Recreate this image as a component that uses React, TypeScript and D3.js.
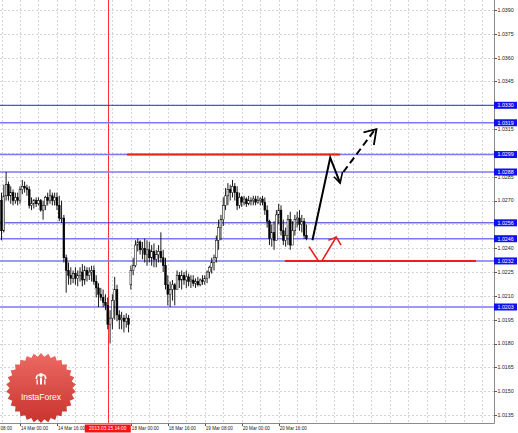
import React from "react";
import * as d3 from "d3";

// ---- data (hourly bars) ----
const opens = [1.0270,1.0251,1.0273,1.0280,1.0273,1.0275,1.0270,1.0272,1.0270,1.0277,1.0279,1.0278,1.0277,1.0267,1.0268,1.0270,1.0268,1.0270,1.0264,1.0267,1.0272,1.0270,1.0273,1.0270,1.0272,1.0267,1.0259,1.0259,1.0234,1.0226,1.0223,1.0221,1.0224,1.0221,1.0223,1.0225,1.0220,1.0226,1.0223,1.0225,1.0226,1.0219,1.0215,1.0211,1.0209,1.0206,1.0204,1.0192,1.0196,1.0207,1.0214,1.0198,1.0195,1.0196,1.0194,1.0196,1.0217,1.0226,1.0229,1.0242,1.0244,1.0239,1.0240,1.0236,1.0239,1.0234,1.0238,1.0233,1.0236,1.0238,1.0234,1.0229,1.0217,1.0211,1.0214,1.0217,1.0214,1.0223,1.0220,1.0223,1.0220,1.0222,1.0219,1.0220,1.0218,1.0219,1.0217,1.0220,1.0219,1.0221,1.0225,1.0228,1.0231,1.0234,1.0245,1.0253,1.0258,1.0267,1.0273,1.0277,1.0275,1.0279,1.0275,1.0267,1.0272,1.0269,1.0271,1.0268,1.0270,1.0270,1.0271,1.0269,1.0270,1.0271,1.0269,1.0264,1.0257,1.0246,1.0250,1.0245,1.0261,1.0264,1.0251,1.0245,1.0248,1.0258,1.0242,1.0251,1.0258,1.0259,1.0255,1.0257,1.0248];
const highs = [1.0275,1.0280,1.0288,1.0282,1.0279,1.0277,1.0275,1.0275,1.0279,1.0283,1.0282,1.0280,1.0279,1.0272,1.0271,1.0272,1.0272,1.0271,1.0270,1.0273,1.0275,1.0277,1.0275,1.0275,1.0275,1.0273,1.0270,1.0261,1.0236,1.0231,1.0228,1.0226,1.0228,1.0226,1.0228,1.0230,1.0229,1.0228,1.0228,1.0229,1.0229,1.0223,1.0218,1.0215,1.0214,1.0211,1.0209,1.0201,1.0211,1.0222,1.0217,1.0201,1.0200,1.0198,1.0199,1.0198,1.0229,1.0234,1.0245,1.0246,1.0245,1.0244,1.0246,1.0245,1.0244,1.0242,1.0243,1.0239,1.0242,1.0250,1.0239,1.0234,1.0223,1.0219,1.0220,1.0218,1.0226,1.0225,1.0226,1.0225,1.0226,1.0224,1.0223,1.0223,1.0221,1.0222,1.0221,1.0223,1.0223,1.0226,1.0229,1.0234,1.0236,1.0248,1.0258,1.0261,1.0272,1.0278,1.0281,1.0280,1.0283,1.0281,1.0279,1.0275,1.0273,1.0273,1.0272,1.0273,1.0272,1.0273,1.0273,1.0273,1.0272,1.0273,1.0272,1.0267,1.0258,1.0255,1.0257,1.0264,1.0268,1.0267,1.0258,1.0253,1.0261,1.0263,1.0257,1.0261,1.0263,1.0264,1.0261,1.0259,1.0255];
const lows = [1.0245,1.0250,1.0270,1.0270,1.0268,1.0267,1.0268,1.0267,1.0268,1.0274,1.0275,1.0273,1.0265,1.0264,1.0265,1.0266,1.0267,1.0263,1.0258,1.0264,1.0267,1.0268,1.0267,1.0267,1.0264,1.0257,1.0256,1.0231,1.0212,1.0217,1.0217,1.0218,1.0217,1.0216,1.0219,1.0216,1.0217,1.0219,1.0220,1.0219,1.0217,1.0209,1.0203,1.0207,1.0203,1.0201,1.0189,1.0180,1.0189,1.0195,1.0194,1.0189,1.0189,1.0187,1.0190,1.0187,1.0214,1.0223,1.0228,1.0238,1.0236,1.0233,1.0231,1.0229,1.0231,1.0229,1.0228,1.0228,1.0231,1.0231,1.0225,1.0214,1.0204,1.0203,1.0207,1.0204,1.0214,1.0215,1.0214,1.0217,1.0215,1.0216,1.0215,1.0216,1.0215,1.0216,1.0216,1.0217,1.0217,1.0218,1.0221,1.0224,1.0226,1.0231,1.0239,1.0245,1.0254,1.0264,1.0267,1.0270,1.0272,1.0270,1.0264,1.0265,1.0266,1.0267,1.0266,1.0267,1.0267,1.0267,1.0267,1.0268,1.0267,1.0267,1.0261,1.0253,1.0242,1.0241,1.0239,1.0245,1.0255,1.0248,1.0242,1.0241,1.0242,1.0239,1.0244,1.0248,1.0253,1.0251,1.0250,1.0246,1.0245];
const closes = [1.0251,1.0273,1.0280,1.0273,1.0275,1.0270,1.0272,1.0270,1.0277,1.0279,1.0278,1.0277,1.0267,1.0268,1.0270,1.0268,1.0270,1.0264,1.0267,1.0272,1.0270,1.0273,1.0270,1.0272,1.0267,1.0259,1.0259,1.0234,1.0226,1.0223,1.0221,1.0224,1.0221,1.0223,1.0225,1.0220,1.0226,1.0223,1.0225,1.0226,1.0219,1.0215,1.0211,1.0209,1.0206,1.0204,1.0192,1.0196,1.0207,1.0214,1.0198,1.0195,1.0196,1.0194,1.0196,1.0192,1.0226,1.0229,1.0242,1.0244,1.0239,1.0240,1.0236,1.0239,1.0234,1.0238,1.0233,1.0236,1.0238,1.0234,1.0229,1.0217,1.0211,1.0214,1.0217,1.0214,1.0223,1.0220,1.0223,1.0220,1.0222,1.0219,1.0220,1.0218,1.0219,1.0217,1.0220,1.0219,1.0221,1.0225,1.0228,1.0231,1.0234,1.0245,1.0253,1.0258,1.0267,1.0273,1.0277,1.0275,1.0279,1.0275,1.0267,1.0272,1.0269,1.0271,1.0268,1.0270,1.0270,1.0271,1.0269,1.0270,1.0271,1.0269,1.0264,1.0257,1.0246,1.0250,1.0245,1.0261,1.0264,1.0251,1.0245,1.0248,1.0258,1.0242,1.0251,1.0258,1.0259,1.0255,1.0257,1.0248,1.0246];

const levels = [1.0330, 1.0319, 1.0299, 1.0288, 1.0256, 1.0246, 1.0232, 1.0203];
const darkLevels = [1.0330, 1.0256];
const priceTicks = [1.0390,1.0375,1.0360,1.0345,1.0330,1.0315,1.0300,1.0285,1.0270,1.0255,1.0240,1.0225,1.0210,1.0195,1.0180,1.0165,1.0150,1.0135];
const timeTickIdx = [-8, 8, 24, 56, 72, 88, 104, 120];
const timeTickLabels = ["08:00","14 Mar 00:00","14 Mar 16:00","18 Mar 00:00","18 Mar 16:00","19 Mar 08:00","20 Mar 00:00","20 Mar 16:00"];
const markerIdx = 46;
const markerLabel = "2013.03.15 14:00";

// annotations: [bar index, price]
const redTopLine = [[54.3, 1.0299],[146.5, 1.0299]];
const redBottomLine = [[122.7, 1.0232],[205.4, 1.0232]];
const redLeftArm = [[133.1, 1.0241],[137.2, 1.0232]];
const redRightArm = [[138.7, 1.0232],[144.9, 1.0247],[147.0, 1.0242]];
const redRightHead = [[141.5, 1.0245],[144.9, 1.0247]];
const blackSolid = [[134.6, 1.0245],[142.3, 1.0297],[146.6, 1.0281]];
const blackSolidHead = [[143.9, 1.0285],[146.6, 1.0281],[147.6, 1.0288]];
const blackDashed = [[148.0, 1.0288],[161.8, 1.0315]];
const blackDashedHead = [[156.7, 1.0313],[162.3, 1.0315],[161.2, 1.0305]];

const W = 518, H = 433;
const plotRight = 494.5, plotBottom = 423.5;

export default function App() {
  const x = d3.scaleLinear().domain([0, 100]).range([1.5, 232.5]);
  const y = d3.scaleLinear().domain([1.0135, 1.0390]).range([415, 10]);
  const line = d3.line<number[]>().x(d => x(d[0])).y(d => y(d[1]));
  const fmt = d3.format(".4f");

  const gridIdx = d3.range(0, 215, 8);
  const bars = closes.map((c, i) => ({ i, o: opens[i], h: highs[i], l: lows[i], c }));

  const cx = 41, cy = 388, rOut = 35, rIn = 31.5, teeth = 30;
  const starPts = d3.range(teeth * 2).map(k => {
    const a = (k / (teeth * 2)) * Math.PI * 2 - Math.PI / 2;
    const r = k % 2 === 0 ? rOut : rIn;
    return [cx + r * Math.cos(a), cy + r * Math.sin(a)] as [number, number];
  });
  const starPath = d3.line()(starPts) + "Z";

  const axisFont = "'Liberation Sans', Arial, sans-serif";

  return (
    <div style={{ position: "fixed", left: 0, top: 0 }}>
      <svg width={W} height={H} style={{ display: "block", background: "#fff" }}>
        <defs>
          <clipPath id="plot"><rect x={0} y={0} width={plotRight} height={plotBottom} /></clipPath>
          <linearGradient id="badge" x1="0" y1="0" x2="0" y2="1">
            <stop offset="0" stopColor="#ec6a62" />
            <stop offset="1" stopColor="#c8332f" />
          </linearGradient>
        </defs>
        <g clipPath="url(#plot)">
          {priceTicks.map(t => (
            <line key={"hg" + t} x1={0} x2={plotRight} y1={Math.round(y(t)) + 0.5} y2={Math.round(y(t)) + 0.5}
              stroke="#d4d4d4" strokeWidth={1} strokeDasharray="2,2" />
          ))}
          {gridIdx.map(g => (
            <line key={"vg" + g} x1={Math.round(x(g)) + 0.5} x2={Math.round(x(g)) + 0.5} y1={0} y2={plotBottom}
              stroke="#d4d4d4" strokeWidth={1} strokeDasharray="2,2" />
          ))}
          <line x1={Math.round(x(markerIdx)) + 0.5} x2={Math.round(x(markerIdx)) + 0.5} y1={0} y2={plotBottom} stroke="#ff3030" strokeWidth={1} />
          {levels.map(lv => {
            const dark = darkLevels.includes(lv);
            return (
              <line key={"lv" + lv} x1={0} x2={plotRight} y1={y(lv)} y2={y(lv)}
                stroke={dark ? "#2a2ad0" : "#7a7af5"} strokeWidth={dark ? 1 : 1.6} />
            );
          })}
          {bars.map(b => {
            const cxp = x(b.i);
            const top = y(Math.max(b.o, b.c));
            const bot = y(Math.min(b.o, b.c));
            const bull = b.c >= b.o;
            return (
              <g key={"b" + b.i}>
                <line x1={cxp} x2={cxp} y1={y(b.h)} y2={y(b.l)} stroke="#000" strokeWidth={0.9} />
                <rect x={cxp - 0.9} y={top} width={1.8} height={Math.max(0.8, bot - top)}
                  fill={bull ? "#fff" : "#000"} stroke="#000" strokeWidth={0.5} />
              </g>
            );
          })}
          <path d={line(redTopLine)!} stroke="#e82020" strokeWidth={2} fill="none" />
          <path d={line(redBottomLine)!} stroke="#e82020" strokeWidth={2} fill="none" />
          <path d={line(redLeftArm)!} stroke="#e82020" strokeWidth={1.6} fill="none" />
          <path d={line(redRightArm)!} stroke="#e82020" strokeWidth={1.6} fill="none" />
          <path d={line(redRightHead)!} stroke="#e82020" strokeWidth={1.6} fill="none" />
          <path d={line(blackSolid)!} stroke="#000" strokeWidth={2} fill="none" strokeLinejoin="miter" />
          <path d={line(blackSolidHead)!} stroke="#000" strokeWidth={1.6} fill="none" />
          <path d={line(blackDashed)!} stroke="#000" strokeWidth={2} fill="none" strokeDasharray="7,4" />
          <path d={line(blackDashedHead)!} stroke="#000" strokeWidth={1.8} fill="none" />
          <path d={starPath} fill="url(#badge)" />
          <g fill="#fff">
            <circle cx={cx} cy={cy - 13} r={2} />
            <rect x={cx - 1} y={cy - 10.5} width={2} height={7} />
            <path d={`M${cx - 5.5},${cy - 9} q0,-4 3,-5 l0.6,1 q-2,1 -2,4 z`} />
            <path d={`M${cx + 5.5},${cy - 9} q0,-4 -3,-5 l-0.6,1 q2,1 2,4 z`} />
            <rect x={cx - 4.5} y={cy - 8.5} width={1.3} height={5} />
            <rect x={cx + 3.2} y={cy - 8.5} width={1.3} height={5} />
          </g>
          <text x={cx} y={cy + 12} textAnchor="middle" fill="#fff" fontSize={8.5} fontFamily={axisFont}>InstaForex</text>
        </g>
        <line x1={plotRight} x2={plotRight} y1={0} y2={plotBottom} stroke="#8a8a8a" strokeWidth={1} />
        <line x1={0} x2={plotRight} y1={plotBottom} y2={plotBottom} stroke="#8a8a8a" strokeWidth={1} />
        {priceTicks.map(t => {
          const hidden = levels.some(lv => Math.abs(lv - t) < 0.00025);
          return (
            <g key={"pt" + t}>
              <line x1={plotRight} x2={plotRight + 2.5} y1={Math.round(y(t)) + 0.5} y2={Math.round(y(t)) + 0.5} stroke="#555" strokeWidth={1} />
              {!hidden && (
                <text x={497.5} y={y(t) + 1.9} fontSize={5.3} fontFamily={axisFont} fill="#222">{fmt(t)}</text>
              )}
            </g>
          );
        })}
        {levels.map(lv => (
          <g key={"lb" + lv}>
            <rect x={494} y={y(lv) - 3.5} width={23} height={7} fill="#1010f0" />
            <text x={497.5} y={y(lv) + 1.9} fontSize={5.3} fontFamily={axisFont} fill="#fff">{fmt(lv)}</text>
          </g>
        ))}
        {timeTickIdx.map((ti, k) => {
          const tx = x(ti);
          return (
            <g key={"tt" + ti}>
              {tx > 0 && (
                <line x1={Math.round(tx) + 0.5} x2={Math.round(tx) + 0.5} y1={plotBottom} y2={plotBottom + 2.5} stroke="#555" strokeWidth={1} />
              )}
              <text x={Math.max(tx + 1, 0.5)} y={430.2} fontSize={4.6} fontFamily={axisFont} fill="#222">{timeTickLabels[k]}</text>
            </g>
          );
        })}
        <rect x={x(markerIdx) - 23} y={424.5} width={46} height={8} fill="#ff1010" />
        <text x={x(markerIdx)} y={430.4} textAnchor="middle" fontSize={4.8} fontFamily={axisFont} fill="#fff">{markerLabel}</text>
      </svg>
    </div>
  );
}
